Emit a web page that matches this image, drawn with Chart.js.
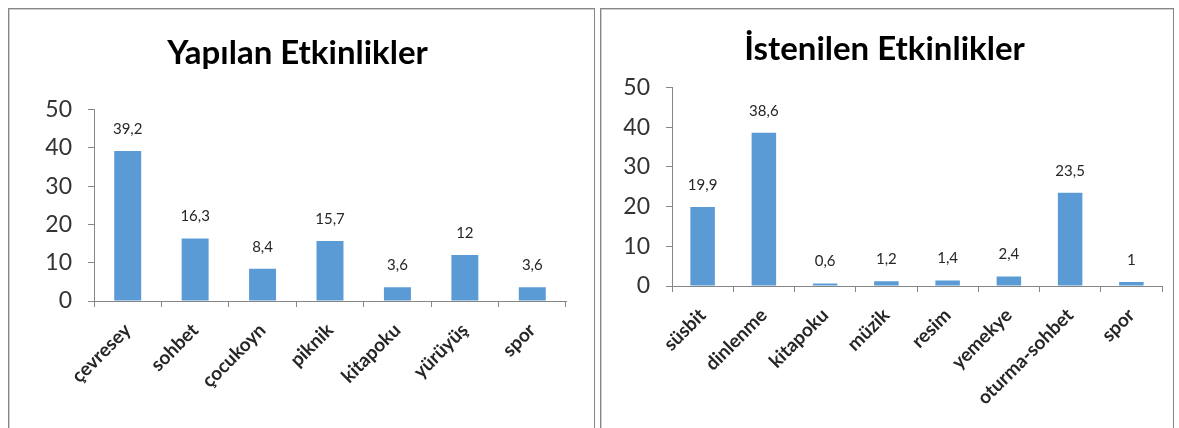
<!DOCTYPE html>
<html>
<head>
<meta charset="utf-8">
<script src="https://cdn.jsdelivr.net/npm/chart.js@4.4.1/dist/chart.umd.min.js"></script>
<style>
body { margin: 0; background: #fff; width: 1179px; height: 428px; overflow: hidden; position: relative; }
.panel { position: absolute; top: 8px; height: 430px; border: 1px solid #868686; box-shadow: inset 1px 1px 0 #d0d0d0; box-sizing: border-box; }
#p1 { left: 8px; width: 587px; }
#p2 { left: 600px; width: 574px; }
</style>
</head>
<body>
<div class="panel" id="p1"><canvas id="c1"></canvas></div>
<div class="panel" id="p2"><canvas id="c2"></canvas></div>
<script>
const yapilanTitle = 'Yapılan Etkinlikler';
const yapilanLabels = ['çevresey', 'sohbet', 'çocukoyn', 'piknik', 'kitapoku', 'yürüyüş', 'spor'];
const yapilanValues = [39.2, 16.3, 8.4, 15.7, 3.6, 12, 3.6];

const istenilenTitle = 'İstenilen Etkinlikler';
const istenilenLabels = ['süsbit', 'dinlenme', 'kitapoku', 'müzik', 'resim', 'yemekye', 'oturma-sohbet', 'spor'];
const istenilenValues = [19.9, 38.6, 0.6, 1.2, 1.4, 2.4, 23.5, 1];

const yMin = 0;
const yMax = 50;
const yStep = 10;

const BAR_COLOR = '#5B9BD5';
const AXIS_COLOR = '#868686';
const TEXT_COLOR = '#262626';
const FONT = 'Lato';

// values above the bars, with a decimal comma
const valueLabels = {
    id: 'valueLabels',
    afterDatasetsDraw(chart) {
        const ctx = chart.ctx;
        const data = chart.data.datasets[0].data;
        ctx.save();
        ctx.font = '15px ' + FONT;
        ctx.fillStyle = TEXT_COLOR;
        ctx.textAlign = 'center';
        ctx.textBaseline = 'middle';
        chart.getDatasetMeta(0).data.forEach((bar, i) => {
            ctx.fillText(String(data[i]).replace('.', ','), bar.x, bar.y - 22);
        });
        ctx.restore();
    }
};

function makeChart(id, title, labels, values, g) {
    const ctx = document.getElementById(id).getContext('2d');
    return new Chart(ctx, {
        type: 'bar',
        data: {
            labels: labels,
            datasets: [{
                data: values,
                backgroundColor: BAR_COLOR,
                barPercentage: 0.4,
                categoryPercentage: 1
            }]
        },
        options: {
            responsive: true,
            maintainAspectRatio: false,
            animation: false,
            layout: { padding: { left: g.padLeft, right: g.padRight, top: 0, bottom: 0 } },
            plugins: {
                legend: { display: false },
                tooltip: { enabled: false },
                title: {
                    display: true,
                    text: title,
                    color: '#000',
                    font: { family: FONT, size: 33, weight: 'bold', lineHeight: 1.2 },
                    padding: { top: g.titleTop, bottom: g.titleBottom }
                }
            },
            scales: {
                x: {
                    afterFit: s => { s.height = g.xHeight; },
                    grid: { display: true, drawOnChartArea: false, drawTicks: true, tickLength: 6, color: AXIS_COLOR, offset: true },
                    border: { display: true, color: AXIS_COLOR },
                    ticks: {
                        autoSkip: false,
                        maxRotation: 45,
                        minRotation: 45,
                        padding: 12,
                        color: TEXT_COLOR,
                        font: { family: FONT, size: 19, weight: 'bold' }
                    }
                },
                y: {
                    min: yMin,
                    max: yMax,
                    afterFit: s => { s.width = g.yWidth; },
                    grid: { display: true, drawOnChartArea: false, drawTicks: true, tickLength: 6, color: AXIS_COLOR },
                    border: { display: true, color: AXIS_COLOR },
                    ticks: {
                        stepSize: yStep,
                        padding: 16,
                        color: '#333',
                        font: { family: FONT, size: 23 }
                    }
                }
            }
        },
        plugins: [valueLabels]
    });
}

makeChart('c1', yapilanTitle, yapilanLabels, yapilanValues,
    { padLeft: 20, yWidth: 65, padRight: 28, titleTop: 25, titleBottom: 36, xHeight: 136 });
makeChart('c2', istenilenTitle, istenilenLabels, istenilenValues,
    { padLeft: 6, yWidth: 65, padRight: 11, titleTop: 21, titleBottom: 18, xHeight: 151 });
</script>
</body>
</html>
